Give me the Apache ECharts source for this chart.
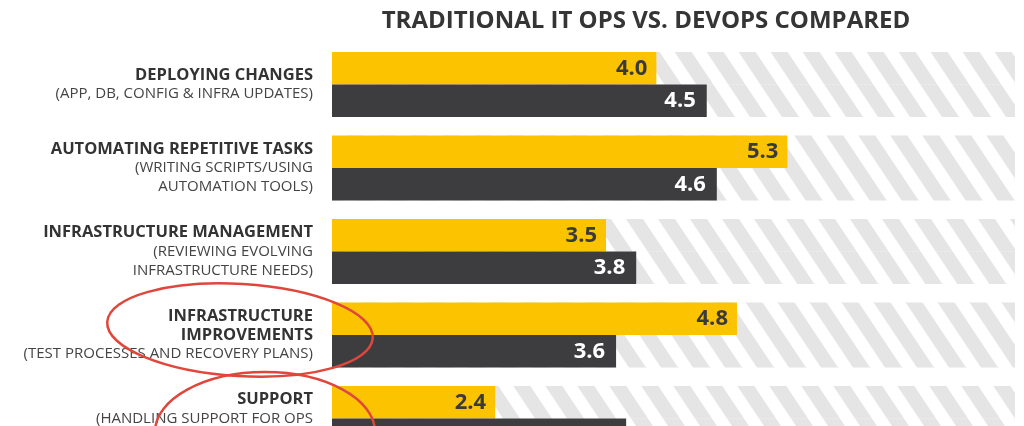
<!DOCTYPE html>
<html>
<head>
<meta charset="utf-8">
<script src="https://cdn.jsdelivr.net/npm/echarts@6/dist/echarts.min.js"></script>
<style>
html,body{margin:0;padding:0;background:#fff;}
#chart{width:1024px;height:426px;}
</style>
</head>
<body>
<div id="chart"></div>
<script>
const titleText = 'TRADITIONAL IT OPS VS. DEVOPS COMPARED';
const categoryTitles = [
  'DEPLOYING CHANGES',
  'AUTOMATING REPETITIVE TASKS',
  'INFRASTRUCTURE MANAGEMENT',
  'INFRASTRUCTURE\nIMPROVEMENTS',
  'SUPPORT'
];
const categorySubtitles = [
  '(APP, DB, CONFIG & INFRA UPDATES)',
  '(WRITING SCRIPTS/USING\nAUTOMATION TOOLS)',
  '(REVIEWING EVOLVING\nINFRASTRUCTURE NEEDS)',
  '(TEST PROCESSES AND RECOVERY PLANS)',
  '(HANDLING SUPPORT FOR OPS\n '
];
const yellowValues = [4.0, 5.3, 3.5, 4.8, 2.4];
const darkValues = [4.5, 4.6, 3.8, 3.6, 3.7];

function hatch() {
  const P = 32, H = 48, w = 17;
  const c = document.createElement('canvas');
  c.width = P; c.height = H;
  const g = c.getContext('2d');
  g.fillStyle = '#ffffff';
  g.fillRect(0, 0, P, H);
  g.fillStyle = '#e5e5e5';
  for (let k = -2; k <= 2; k++) {
    const x0 = k * P;
    g.beginPath();
    g.moveTo(x0, 0);
    g.lineTo(x0 + w, 0);
    g.lineTo(x0 + w + P, H);
    g.lineTo(x0 + P, H);
    g.closePath();
    g.fill();
  }
  return c;
}

const categories = categoryTitles.map((t, i) => i);
const chart = echarts.init(document.getElementById('chart'), null, {renderer: 'canvas'});
const pattern = {image: hatch(), repeat: 'repeat'};

function labelFor(i) {
  const t = categoryTitles[i].split('\n').map(s => '{t|' + s + '}').join('\n');
  const s = categorySubtitles[i].split('\n').map(x => '{s|' + x + '}').join('\n');
  return t + '\n' + s;
}

chart.setOption({
  backgroundColor: '#ffffff',
  animation: false,
  title: {
    text: titleText,
    left: 641,
    top: 4,
    textAlign: 'center',
    textStyle: {fontFamily: 'Open Sans', fontWeight: 'bold', fontSize: 24, color: '#353535'}
  },
  grid: {left: 332, right: 9, top: 42.75, height: 417.5, containLabel: false, outerBoundsMode: 'none'},
  xAxis: {
    type: 'value', min: 0.78, max: 7.56,
    show: false
  },
  yAxis: {
    type: 'category',
    inverse: true,
    data: categories,
    axisLine: {show: false},
    axisTick: {show: false},
    splitLine: {show: false},
    axisLabel: {
      margin: 19,
      align: 'right',
      formatter: (v, i) => labelFor(i),
      rich: {
        t: {fontFamily: 'Open Sans', fontWeight: 'bold', fontSize: 16.5, color: '#333333', lineHeight: 19, align: 'right'},
        s: {fontFamily: 'Open Sans', fontSize: 15, color: '#444444', lineHeight: 19, align: 'right'}
      }
    }
  },
  series: [
    {
      name: 'Traditional IT Ops',
      type: 'bar',
      data: yellowValues,
      barWidth: 32.5,
      barGap: '0%',
      itemStyle: {color: '#fcc300'},
      showBackground: true,
      backgroundStyle: {color: pattern},
      label: {
        show: true, position: 'insideRight', distance: 9,
        formatter: p => p.value.toFixed(1),
        fontFamily: 'Open Sans', fontWeight: 'bold', fontSize: 22, color: '#3a3a3a'
      }
    },
    {
      name: 'DevOps',
      type: 'bar',
      data: darkValues,
      barWidth: 32.5,
      barGap: '0%',
      itemStyle: {color: '#3d3d3f'},
      showBackground: true,
      backgroundStyle: {color: pattern},
      label: {
        show: true, position: 'insideRight', distance: 11,
        formatter: p => p.value.toFixed(1),
        fontFamily: 'Open Sans', fontWeight: 'bold', fontSize: 22, color: '#ffffff'
      }
    }
  ],
  graphic: [
    {
      type: 'ellipse', x: 240, y: 330, rotation: -0.06, z: 100,
      shape: {cx: 0, cy: 0, rx: 133, ry: 46},
      style: {fill: 'none', stroke: '#e0463c', lineWidth: 2.5}
    },
    {
      type: 'ellipse', x: 265, y: 432, rotation: 0, z: 100,
      shape: {cx: 0, cy: 0, rx: 110, ry: 60},
      style: {fill: 'none', stroke: '#e0463c', lineWidth: 2.5}
    }
  ]
});
</script>
</body>
</html>
